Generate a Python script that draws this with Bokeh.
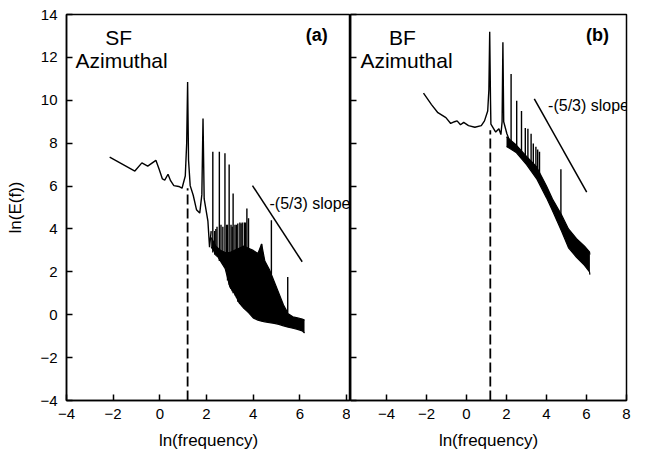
from bokeh.plotting import figure
from bokeh.layouts import row
from bokeh.models import Range1d, FixedTicker
from bokeh.core.properties import value
from bokeh.embed import file_html
from bokeh.resources import INLINE

FONT = "Liberation Sans"

# ---------------- data ----------------
x_ticks = [-4, -2, 0, 2, 4, 6, 8]
y_ticks = [-4, -2, 0, 2, 4, 6, 8, 10, 12, 14]

# Panel (a) SF azimuthal: continuous low-frequency part of the spectrum
line_a_x = [-2.15, -1.07, -0.77, -0.52, -0.17, -0.03, 0.11, 0.21, 0.35, 0.46, 0.60, 0.81,
            0.95, 1.09, 1.15, 1.19, 1.23, 1.30, 1.43, 1.57, 1.71, 1.80, 1.85, 1.90, 2.06,
            2.13, 2.20]
line_a_y = [7.35, 6.70, 7.08, 6.93, 7.20, 6.78, 6.33, 6.28, 6.55, 6.25, 6.02, 5.98,
            5.90, 6.47, 8.00, 10.85, 7.20, 6.02, 5.57, 4.90, 4.74, 5.60, 9.15, 5.40, 4.36,
            3.15, 3.90]
# spikes of panel (a)
spike_a_x = [2.27, 2.55, 2.79, 2.97, 3.14, 3.22, 3.34, 3.43, 3.53, 3.62, 3.73, 3.80,
             4.78, 5.48, 2.35, 2.45, 2.62, 2.70, 2.86, 3.05, 4.36, 2.40, 2.90, 3.10,
             3.28, 3.48, 3.67]
spike_a_top = [7.60, 7.60, 7.53, 7.00, 5.65, 4.20, 4.25, 4.30, 4.30, 4.30, 4.95, 4.50,
               4.40, 1.76, 3.90, 4.10, 4.20, 4.10, 4.20, 4.20, 3.30, 4.00, 4.20, 4.10,
               4.20, 4.25, 4.30]
spike_a_base = [2.90, 2.50, 2.20, 1.40, 1.00, 0.90, 0.60, 0.50, 0.40, 0.30, 0.20, 0.10,
                1.90, 0.10, 2.80, 2.70, 2.50, 2.40, 2.10, 1.20, 2.50, 2.75, 1.60, 1.10,
                0.80, 0.45, 0.25]
# dense noisy band of panel (a)
band_a_x = [2.20, 2.40, 2.60, 2.80, 3.00, 3.20, 3.40, 3.60, 3.80, 4.00, 4.20, 4.36,
            4.50, 4.70, 4.90, 5.10, 5.30, 5.50, 5.70, 5.90, 6.10, 6.20]
band_a_hi = [3.60, 3.20, 3.00, 2.90, 2.90, 3.00, 3.10, 3.20, 3.10, 3.00, 2.85, 3.30,
             2.50, 2.10, 1.55, 1.00, 0.45, 0.05, -0.10, -0.15, -0.20, -0.25]
band_a_lo = [3.15, 2.85, 2.50, 2.15, 1.30, 1.00, 0.55, 0.30, 0.10, -0.15, -0.25, -0.30,
             -0.33, -0.37, -0.40, -0.45, -0.52, -0.58, -0.63, -0.68, -0.75, -0.85]

# Panel (b) BF azimuthal
line_b_x = [-2.15, -1.75, -1.43, -1.03, -0.79, -0.60, -0.47, -0.30, -0.14, 0.10, 0.42,
            0.74, 0.90, 1.06, 1.12, 1.16, 1.20, 1.22, 1.46, 1.62, 1.72, 1.78, 1.82, 1.86,
            2.02, 2.27]
line_b_y = [10.33, 9.80, 9.42, 9.19, 8.92, 9.00, 9.04, 8.86, 8.97, 8.82, 8.74,
            8.82, 9.04, 9.50, 10.50, 13.20, 10.00, 8.89, 8.52, 8.67, 8.40, 9.00, 12.70, 9.00,
            8.44, 7.83]
spike_b_x = [2.23, 2.51, 2.75, 2.94, 3.07, 3.23, 3.34, 3.47, 3.56, 3.65, 4.72]
spike_b_top = [11.23, 9.98, 9.50, 8.71, 8.67, 8.44, 7.98, 7.83, 7.70, 7.60, 6.78]
spike_b_base = [7.90, 7.60, 7.40, 7.20, 7.00, 6.80, 6.60, 6.50, 6.40, 6.30, 4.30]
band_b_x = [2.00, 2.50, 3.00, 3.50, 4.00, 4.30, 4.75, 5.10, 5.50, 5.90, 6.15, 6.17]
band_b_hi = [8.30, 7.90, 7.38, 6.90, 6.00, 5.40, 4.66, 4.00, 3.55, 3.20, 2.93, 2.80]
band_b_lo = [7.85, 7.55, 7.00, 6.35, 5.45, 4.85, 3.90, 3.12, 2.68, 2.30, 2.00, 1.87]

# reference -5/3 slope lines
slope_a_x = [3.97, 6.10]
slope_a_y = [6.02, 2.47]
slope_b_x = [3.39, 6.01]
slope_b_y = [10.06, 5.72]

# dashed marker at the forcing frequency
dash_x = 1.19
dash_a_y = [-4, 5.9]
dash_b_y = [-4, 8.6]


def style(p, show_labels):
    p.outline_line_color = "black"
    p.outline_line_width = 1.5
    p.xgrid.visible = False
    p.ygrid.visible = False
    p.background_fill_color = "white"
    p.border_fill_color = "white"
    for ax in p.axis:
        ax.major_tick_in = 6
        ax.major_tick_out = 0
        ax.minor_tick_line_color = None
        ax.axis_line_color = "black"
        ax.axis_line_width = 1.5
        ax.major_tick_line_color = "black"
        ax.major_tick_line_width = 1.5
        ax.major_label_text_font = FONT
        ax.major_label_text_font_size = "15px"
        ax.major_label_text_color = "black"
        ax.axis_label_text_font = FONT
        ax.axis_label_text_font_size = "17px"
        ax.axis_label_text_font_style = "normal"
        ax.axis_label_text_color = "black"
    p.xaxis.ticker = FixedTicker(ticks=x_ticks)
    p.yaxis.ticker = FixedTicker(ticks=y_ticks)
    p.xaxis.major_label_standoff = 8
    p.xaxis.axis_label = "ln(frequency)"
    p.xaxis.axis_label_standoff = 9
    if show_labels:
        p.yaxis.axis_label = "ln(E(f))"
        p.yaxis.major_label_standoff = 9
        p.yaxis.axis_label_standoff = 12
    else:
        p.yaxis.major_label_text_font_size = "1px"
        p.yaxis.major_label_text_color = None
        p.yaxis.major_label_standoff = 0


def draw(p, lx, ly, sx, stop, sbase, bx, bhi, blo, slx, sly, dy):
    p.varea(x=bx, y1=blo, y2=bhi, fill_color="black")
    p.line(x=bx, y=bhi, line_color="black", line_width=1.2)
    p.line(x=bx, y=blo, line_color="black", line_width=1.2)
    p.segment(x0=sx, y0=sbase, x1=sx, y1=stop, line_color="black", line_width=1.4)
    p.line(x=lx, y=ly, line_color="black", line_width=1.4)
    p.line(x=slx, y=sly, line_color="black", line_width=1.5)
    p.line(x=[dash_x, dash_x], y=dy, line_color="black", line_width=1.8, line_dash="10 4")


def txt(p, x, y, s, size, align="left", baseline="alphabetic", style_="normal"):
    p.text(x=[x], y=[y], text=[s], text_font=value(FONT), text_font_size=value(size),
           text_align=align, text_baseline=baseline, text_color="black",
           text_font_style=style_)


H = 454
TOP = 14
BOTTOM = 54
p1 = figure(width=350, height=H, x_range=Range1d(-4, 8.17), y_range=Range1d(-4, 14),
            output_backend="svg", toolbar_location=None,
            min_border_left=66, min_border_right=0, min_border_top=TOP, min_border_bottom=BOTTOM)
style(p1, True)
draw(p1, line_a_x, line_a_y, spike_a_x, spike_a_top, spike_a_base,
     band_a_x, band_a_hi, band_a_lo, slope_a_x, slope_a_y, dash_a_y)
txt(p1, -1.76, 12.91, "SF", "21px", align="center")
txt(p1, -1.64, 11.87, "Azimuthal", "21px", align="center")
txt(p1, 6.72, 13.05, "(a)", "18px", align="center", baseline="middle", style_="bold")
txt(p1, 4.70, 5.20, "-(5/3) slope", "16px", baseline="middle")

p2 = figure(width=281, height=H, x_range=Range1d(-5.8, 8), y_range=Range1d(-4, 14),
            output_backend="svg", toolbar_location=None,
            min_border_left=0, min_border_right=5, min_border_top=TOP, min_border_bottom=BOTTOM)
style(p2, False)
draw(p2, line_b_x, line_b_y, spike_b_x, spike_b_top, spike_b_base,
     band_b_x, band_b_hi, band_b_lo, slope_b_x, slope_b_y, dash_b_y)
txt(p2, -3.2, 12.91, "BF", "21px", align="center")
txt(p2, -3.0, 11.87, "Azimuthal", "21px", align="center")
txt(p2, 6.55, 13.05, "(b)", "18px", align="center", baseline="middle", style_="bold")
txt(p2, 4.08, 9.74, "-(5/3) slope", "16px", baseline="middle")

layout = row(p1, p2)
open("out.html", "w").write(file_html(layout, INLINE))
